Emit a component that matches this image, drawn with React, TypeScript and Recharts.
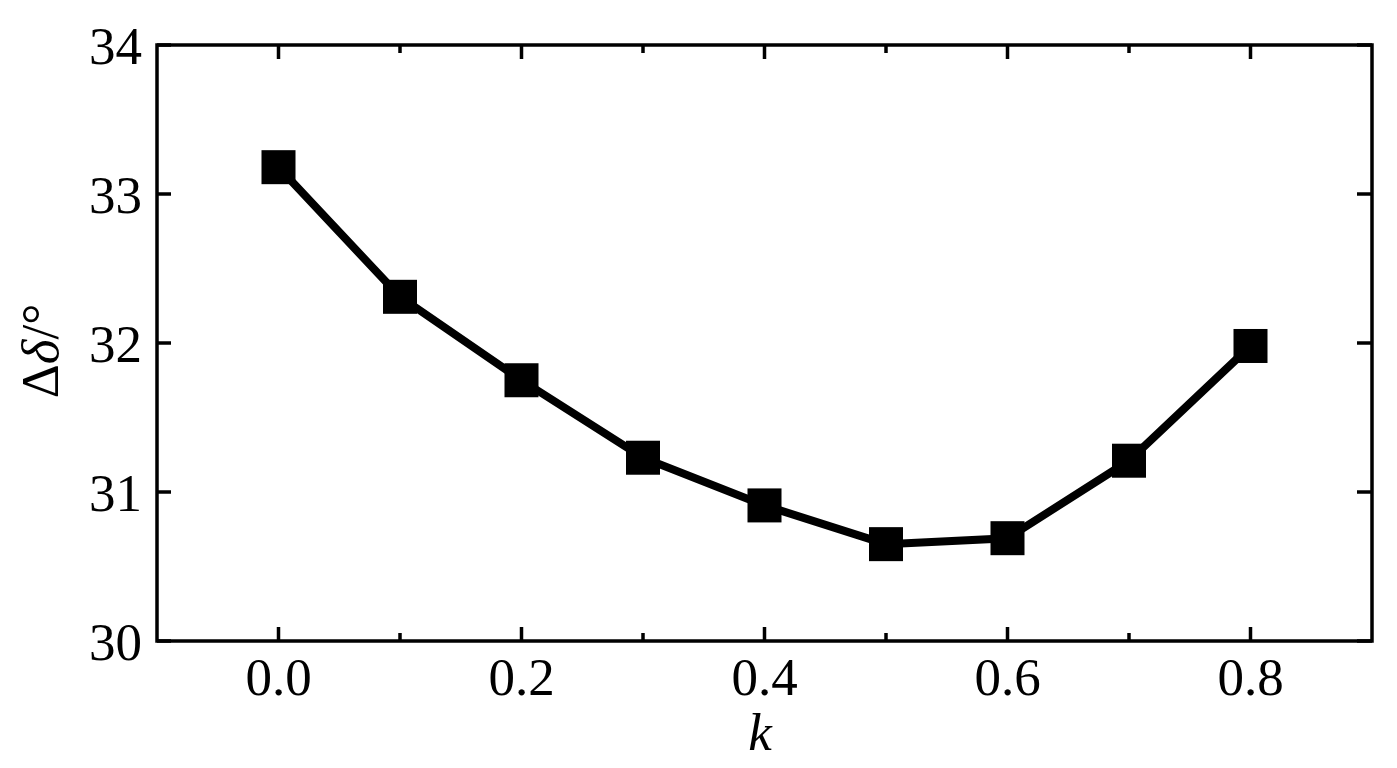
import { Line, LineChart, ReferenceArea, ReferenceLine, XAxis, YAxis } from "recharts";

const kValues = [0, 0.1, 0.2, 0.3, 0.4, 0.5, 0.6, 0.7, 0.8];
const deltaValues = [33.18, 32.31, 31.75, 31.23, 30.91, 30.65, 30.69, 31.21, 31.98];

const xTicks = [0, 0.1, 0.2, 0.3, 0.4, 0.5, 0.6, 0.7, 0.8];
const xTickLabels = ["0.0", "", "0.2", "", "0.4", "", "0.6", "", "0.8"];
const yTicks = [30, 31, 32, 33, 34];

const X_DOMAIN: [number, number] = [-0.1, 0.9];
const Y_DOMAIN: [number, number] = [30, 34];

// plot box size in px, used to turn tick lengths into data units
const PLOT_W = 1215;
const PLOT_H = 596;
const pxX = (X_DOMAIN[1] - X_DOMAIN[0]) / PLOT_W;
const pxY = (Y_DOMAIN[1] - Y_DOMAIN[0]) / PLOT_H;

const FONT = '"Liberation Serif", "Times New Roman", Times, serif';
const FS = 53;

const data = kValues.map((k, i) => ({ k, delta: deltaValues[i] }));

function BottomTick(props: any) {
  const { x, y, payload } = props;
  const i = xTicks.findIndex((t) => Math.abs(t - payload.value) < 1e-6);
  const label = i >= 0 ? xTickLabels[i] : "";
  if (!label) return <g />;
  return (
    <text x={x} y={y + 54} textAnchor="middle" fontFamily={FONT} fontSize={FS} fill="#000">
      {label}
    </text>
  );
}

function LeftTick(props: any) {
  const { x, y, payload } = props;
  return (
    <text x={x - 15} y={y} dy={19} textAnchor="end" fontFamily={FONT} fontSize={FS} fill="#000">
      {payload.value}
    </text>
  );
}

function SquareDot(props: any) {
  const { cx, cy, index } = props;
  return <rect key={index} x={cx - 17} y={cy - 17} width={34} height={34} fill="#000" />;
}

const tickStroke = { stroke: "#000", strokeWidth: 3.5 };

export default function App() {
  return (
    <div style={{ position: "absolute", left: 0, top: 0, background: "#fff" }}>
      <LineChart
        width={1397}
        height={768}
        data={data}
        margin={{ top: 45, right: 25, bottom: 0, left: 0 }}
      >
        <XAxis
          dataKey="k"
          type="number"
          domain={X_DOMAIN}
          ticks={xTicks}
          interval={0}
          allowDataOverflow
          height={127}
          tickSize={0}
          tickMargin={0}
          tickLine={false}
          axisLine={false}
          tick={<BottomTick />}
          label={{
            content: () => (
              <text x={760} y={750} textAnchor="middle" fontFamily={FONT} fontSize={FS} fontStyle="italic" fill="#000">
                k
              </text>
            ),
          }}
        />
        <YAxis
          type="number"
          domain={Y_DOMAIN}
          ticks={yTicks}
          interval={0}
          allowDataOverflow
          width={157}
          tickSize={0}
          tickMargin={0}
          tickLine={false}
          axisLine={false}
          tick={<LeftTick />}
          label={{
            content: () => (
              <text
                x={58}
                y={351}
                transform="rotate(-90, 58, 351)"
                textAnchor="middle"
                fontFamily={FONT}
                fontSize={FS}
                fill="#000"
              >
                Δ<tspan fontStyle="italic">δ</tspan>/°
              </text>
            ),
          }}
        />

        {/* inward ticks on all four sides */}
        {xTicks.map((t, i) => {
          const len = xTickLabels[i] ? 14 : 8;
          return [
            <ReferenceLine
              key={"b" + i}
              segment={[{ x: t, y: Y_DOMAIN[0] }, { x: t, y: Y_DOMAIN[0] + len * pxY }]}
              {...tickStroke}
            />,
            <ReferenceLine
              key={"t" + i}
              segment={[{ x: t, y: Y_DOMAIN[1] }, { x: t, y: Y_DOMAIN[1] - len * pxY }]}
              {...tickStroke}
            />,
          ];
        })}
        {yTicks.map((v, i) => [
          <ReferenceLine
            key={"l" + i}
            segment={[{ x: X_DOMAIN[0], y: v }, { x: X_DOMAIN[0] + 14 * pxX, y: v }]}
            {...tickStroke}
          />,
          <ReferenceLine
            key={"r" + i}
            segment={[{ x: X_DOMAIN[1], y: v }, { x: X_DOMAIN[1] - 15 * pxX, y: v }]}
            {...tickStroke}
          />,
        ])}

        <ReferenceArea
          x1={X_DOMAIN[0]}
          x2={X_DOMAIN[1]}
          y1={Y_DOMAIN[0]}
          y2={Y_DOMAIN[1]}
          fill="none"
          fillOpacity={0}
          stroke="#000"
          strokeWidth={3.5}
        />

        <Line
          dataKey="delta"
          stroke="#000"
          strokeWidth={8}
          dot={SquareDot}
          activeDot={false}
          isAnimationActive={false}
        />
      </LineChart>
    </div>
  );
}
